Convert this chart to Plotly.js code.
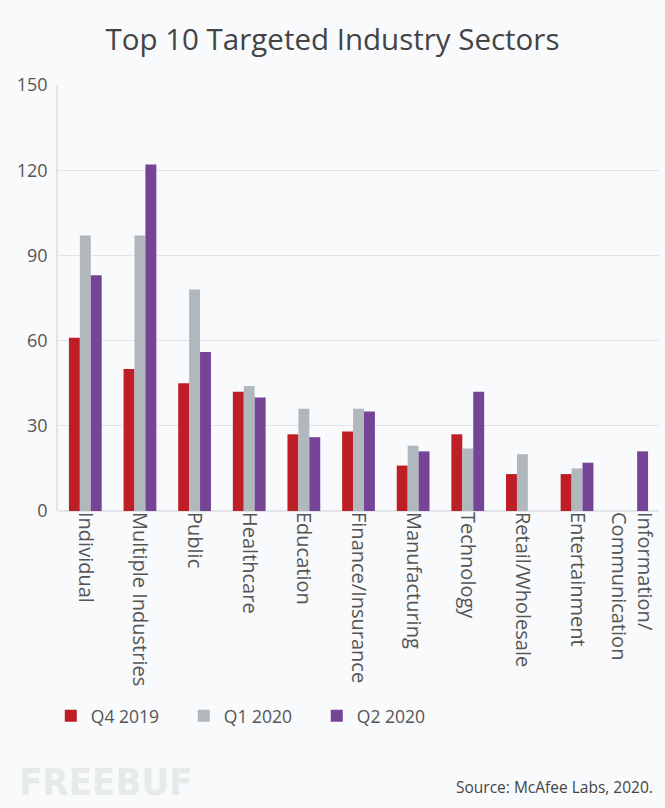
<!DOCTYPE html>
<html>
<head>
<meta charset="utf-8">
<script src="https://cdn.plot.ly/plotly-3.0.1.min.js"></script>
<style>html,body{margin:0;padding:0;background:#f9fafc;}#chart{width:665px;height:808px;}</style>
</head>
<body>
<div id="chart"></div>
<script>
var categories = ["Individual", "Multiple Industries", "Public", "Healthcare", "Education",
  "Finance/Insurance", "Manufacturing", "Technology", "Retail/Wholesale", "Entertainment",
  "Information/<br>Communication"];
var seriesNames = ["Q4 2019", "Q1 2020", "Q2 2020"];
var q4_2019 = [61, 50, 45, 42, 27, 28, 16, 27, 13, 13, null];
var q1_2020 = [97, 97, 78, 44, 36, 36, 23, 22, 20, 15, null];
var q2_2020 = [83, 122, 56, 40, 26, 35, 21, 42, null, 17, 21];
var yTicks = [0, 30, 60, 90, 120, 150];
var colors = ["#be1f26", "#b1b8bd", "#764497"];

var series = [q4_2019, q1_2020, q2_2020];
var traces = series.map(function (vals, i) {
  return {
    type: "bar",
    name: seriesNames[i],
    x: categories,
    y: vals,
    marker: {color: colors[i]},
    hoverinfo: "x+y+name"
  };
});

var layout = {
  width: 665,
  height: 808,
  paper_bgcolor: "#f9fafc",
  plot_bgcolor: "#f9fafc",
  font: {family: "Open Sans, sans-serif", color: "#555555"},
  margin: {l: 58, r: 6, t: 85, b: 297},
  title: {
    text: "Top 10 Targeted Industry Sectors",
    font: {size: 29.5, color: "#444444", family: "Open Sans, sans-serif"},
    x: 0.5, xanchor: "center",
    y: 0.951, yanchor: "middle"
  },
  barmode: "group",
  bargap: 0.4,
  bargroupgap: 0,
  xaxis: {
    type: "category",
    tickangle: 90,
    tickfont: {size: 20, color: "#555555"},
    showgrid: false,
    showline: false,
    ticks: ""
  },
  yaxis: {
    range: [0, 150],
    tickvals: yTicks,
    ticktext: yTicks.map(String),
    tickfont: {size: 18, color: "#555555"},
    showgrid: true,
    gridcolor: "#e3e4e7",
    gridwidth: 1.2,
    zeroline: true,
    zerolinecolor: "#e3e4e7",
    zerolinewidth: 1.5,
    showline: true,
    linecolor: "#e3e4e7",
    linewidth: 1.5,
    ticks: "",
    ticklabelstandoff: 5
  },
  legend: {
    orientation: "h",
    x: -0.012, xanchor: "left",
    y: -0.481, yanchor: "middle",
    font: {size: 17.5, color: "#555555"},
    entrywidth: 88,
    entrywidthmode: "pixels",
    bgcolor: "rgba(0,0,0,0)"
  },
  annotations: [
    {
      text: "Source: McAfee Labs, 2020.",
      xref: "paper", yref: "paper",
      x: 0.993, xanchor: "right",
      y: -0.648, yanchor: "middle",
      showarrow: false,
      font: {size: 15.5, color: "#444444"}
    },
    {
      text: "<b>FREEBUF</b>",
      xref: "paper", yref: "paper",
      x: -0.068, xanchor: "left",
      y: -0.635, yanchor: "middle",
      showarrow: false,
      font: {size: 38, color: "#e6ebea", family: "DejaVu Sans Condensed, sans-serif"}
    }
  ]
};

Plotly.newPlot("chart", traces, layout, {displayModeBar: false, responsive: false});
</script>
</body>
</html>
